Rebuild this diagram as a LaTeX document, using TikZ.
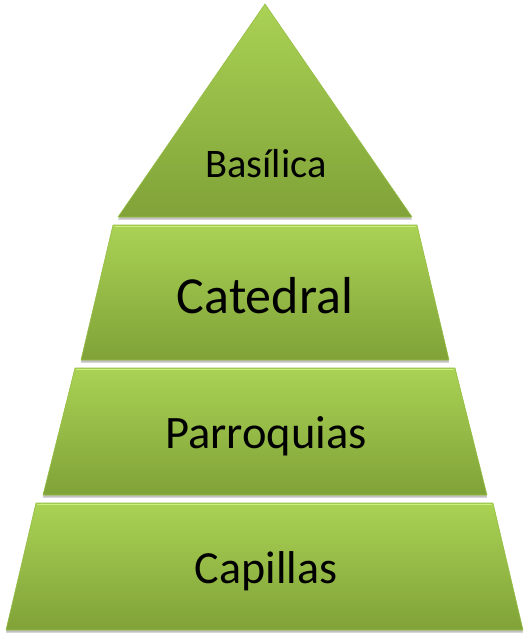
\documentclass[tikz,border=0pt]{standalone}
\usepackage{fontspec}
\setmainfont{Carlito}
\usetikzlibrary{shadows}
\definecolor{tiertop}{RGB}{170,210,84}
\definecolor{tierbot}{RGB}{128,162,56}
\definecolor{tierlight}{RGB}{205,238,128}
\definecolor{tierline}{RGB}{150,190,70}

\begin{document}
\begin{tikzpicture}[x=1pt, y=-1pt,
    tier/.style={top color=tiertop, bottom color=tierbot,
                 draw=tierline, line width=0.6pt, line join=round,
                 drop shadow={shadow xshift=0pt, shadow yshift=-2.5pt,
                              opacity=0.35, fill=black!70}},
    bevel/.style={draw=tierlight, line width=1.6pt, line cap=round},
    label/.style={text=black, inner sep=0pt, anchor=base}]
  \useasboundingbox (0,0) rectangle (530,639);

  % tiers, top to bottom
  \path[tier] (265,4) -- (412,217) -- (118,217) -- cycle;
  \path[tier] (113,225) -- (417,225) -- (449,360) -- (81,360) -- cycle;
  \path[tier] (75,368) -- (455,368) -- (487,495) -- (43,495) -- cycle;
  \path[tier] (36,503) -- (493,503) -- (523,630) -- (6,630) -- cycle;

  % light top edges
  \draw[bevel] (115,226.5) -- (415,226.5);
  \draw[bevel] (77,369.5) -- (453,369.5);
  \draw[bevel] (38,504.5) -- (491,504.5);

  \node[label, font=\fontsize{40.5}{46}\selectfont] (basilica) at (266,177) {Basílica};
  \node[label, font=\fontsize{52}{58}\selectfont] (catedral) at (265,313) {Catedral};
  \node[label, font=\fontsize{46.5}{52}\selectfont] (parroquias) at (266,448) {Parroquias};
  \node[label, font=\fontsize{46}{52}\selectfont] (capillas) at (266,583) {Capillas};
\end{tikzpicture}
\end{document}
